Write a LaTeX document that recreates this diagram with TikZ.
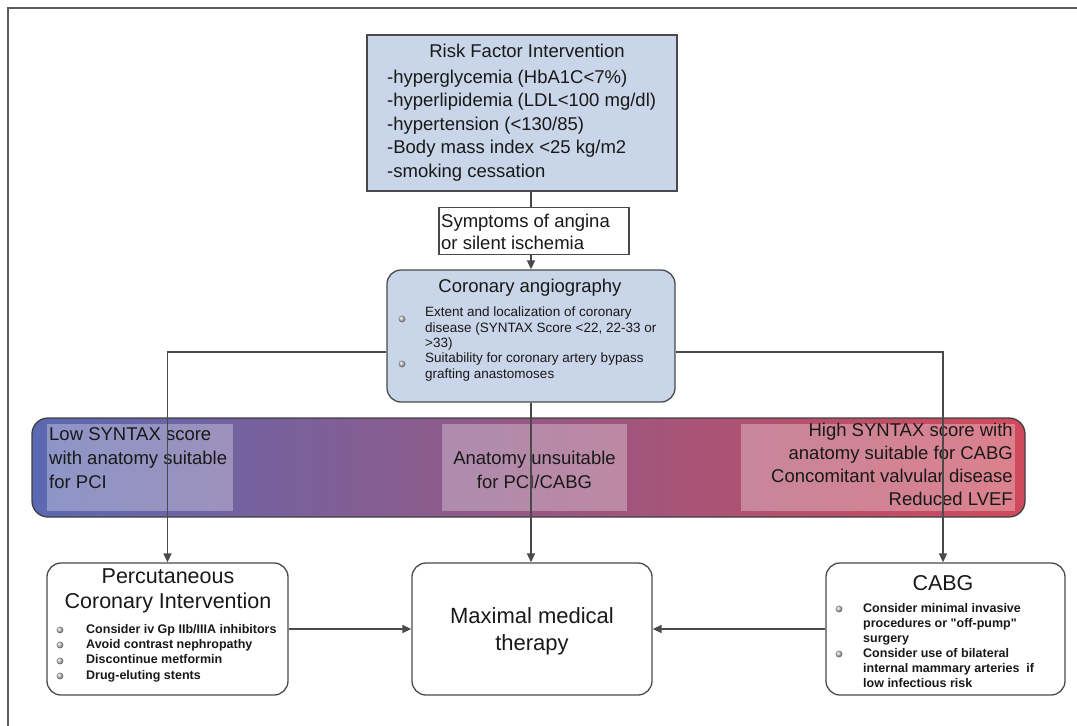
\documentclass[tikz,border=0pt]{standalone}
\usepackage{fontspec}
\setmainfont{Liberation Sans}[Ligatures=TeXOff]
\usetikzlibrary{arrows.meta}

\definecolor{boxblue}{HTML}{C9D5E8}
\definecolor{edge}{HTML}{4A4A4A}
\definecolor{bandblue}{HTML}{5B69B2}
\definecolor{bandmid}{HTML}{965884}
\definecolor{bandred}{HTML}{CF4A5B}

\tikzset{
  box/.style={draw=edge, line width=1.3pt, inner sep=0pt},
  bluebox/.style={box, fill=boxblue},
  roundbox/.style={box, rounded corners=14pt},
  txt/.style={inner sep=0pt, text=black!90},
  big/.style={txt, font=\fontsize{18.5}{23.5}\selectfont},
  small/.style={txt, font=\fontsize{13.5}{15.3}\selectfont},
  smallbf/.style={txt, font=\fontsize{12.5}{15.2}\selectfont\bfseries},
  pane/.style={fill=white, fill opacity=0.3, inner sep=0pt},
  link/.style={draw=edge, line width=1.5pt},
  arrow/.style={link, -{Triangle[length=9pt,width=8pt]}},
}
% small shaded bullet
\newcommand{\dotmark}[1]{\shade[ball color=gray!45] (#1) circle (3.4pt);}

\begin{document}
\begin{tikzpicture}[x=1pt, y=-1pt]
\useasboundingbox (0,0) rectangle (1077,726);

% frame
\draw[edge!90, line width=1.5pt] (8,740) -- (8,8) -- (1090,8);

% risk factors (multi-line texts sit on their last baseline)
\node[box, fill=boxblue, minimum width=310pt, minimum height=156pt] (risk) at (522,113) {};
\node[big, anchor=base] (risktitle) at (527,57) {Risk Factor Intervention};
\node[big, anchor=base west, align=left] (risklist) at (387,177)
  {-hyperglycemia (HbA1C<7\%)\\-hyperlipidemia (LDL<100 mg/dl)\\-hypertension (<130/85)\\-Body mass index <25 kg/m2\\-smoking cessation};

\node[box, fill=white, minimum width=190pt, minimum height=47pt] (symp) at (534,231) {};
\node[big, anchor=base west, align=left, font=\fontsize{18.5}{22}\selectfont] (symptxt) at (441,249)
  {Symptoms of angina\\or silent ischemia};

% angiography
\node[roundbox, fill=boxblue, minimum width=288pt, minimum height=132pt] (cor) at (531,336) {};
\node[big, anchor=base] (cortitle) at (530,292) {Coronary angiography};
\node[small, anchor=base west, align=left] (corlist) at (425,378)
  {Extent and localization of coronary\\disease (SYNTAX Score <22, 22-33 or\\>33)\\Suitability for coronary artery bypass\\grafting anastomoses};
\dotmark{402,319}
\dotmark{402,364}

% SYNTAX band
\node[box, rounded corners=16pt, draw=black!75, left color=bandblue, right color=bandred, middle color=bandmid,
  minimum width=993pt, minimum height=99pt] (band) at (528.5,467.5) {};
\node[pane, minimum width=186pt, minimum height=87pt] (lowpane) at (140,467.5) {};
\node[pane, minimum width=185pt, minimum height=87pt] (midpane) at (534.5,467.5) {};
\node[pane, minimum width=274pt, minimum height=87pt] (highpane) at (878,467.5) {};
\node[big, anchor=base west, align=left, font=\fontsize{18.5}{24}\selectfont] (lowtxt) at (49,488)
  {Low SYNTAX score\\with anatomy suitable\\for PCI};
\node[big, anchor=base, align=center] (midtxt) at (534.5,488)
  {Anatomy unsuitable\\for PCI/CABG};
\node[big, anchor=base east, align=right, font=\fontsize{18.5}{23}\selectfont] (hightxt) at (1013,505)
  {High SYNTAX score with\\anatomy suitable for CABG\\Concomitant valvular disease\\Reduced LVEF};

% treatments
\node[roundbox, fill=white, minimum width=241pt, minimum height=132pt] (pci) at (167.5,629) {};
\node[txt, anchor=base, align=center, font=\fontsize{21.5}{25}\selectfont] (pcititle) at (168,608)
  {Percutaneous\\Coronary Intervention};
\node[smallbf, anchor=base west, align=left] (pcilist) at (86,679)
  {Consider iv Gp IIb/IIIA inhibitors\\Avoid contrast nephropathy\\Discontinue metformin\\Drug-eluting stents};
\foreach \y in {630,645,661,676}
  {\dotmark{60,\y}}

\node[roundbox, fill=white, minimum width=240pt, minimum height=132pt] (max) at (532,629) {};
\node[txt, anchor=base, align=center, font=\fontsize{22}{27}\selectfont] (maxtxt) at (532,650)
  {Maximal medical\\therapy};

\node[roundbox, fill=white, minimum width=239pt, minimum height=132pt] (cabg) at (945.5,629) {};
\node[txt, anchor=base, font=\fontsize{21.5}{25}\selectfont] (cabgtitle) at (943,590) {CABG};
\node[smallbf, anchor=base west, align=left, font=\fontsize{12.5}{15}\selectfont\bfseries] (cabglist) at (863,687)
  {Consider minimal invasive\\procedures or "off-pump"\\surgery\\Consider use of bilateral\\internal mammary arteries\ \ if\\low infectious risk};
\dotmark{839,609}
\dotmark{839,654}

% connectors
\draw[link] (cor.north |- risk.south) -- (cor.north |- symp.north);
\draw[arrow] (cor.north |- symp.south) -- (cor.north);
\draw[arrow] ([yshift=-16pt]cor.west) -| (pci.north);
\draw[arrow] ([yshift=-16pt]cor.east) -| ([xshift=-2.5pt]cabg.north);
\draw[arrow] (cor.south) -- (cor.south |- max.north);
\draw[arrow] (pci.east) -- (max.west);
\draw[arrow] (cabg.west) -- (max.east);

\end{tikzpicture}
\end{document}
